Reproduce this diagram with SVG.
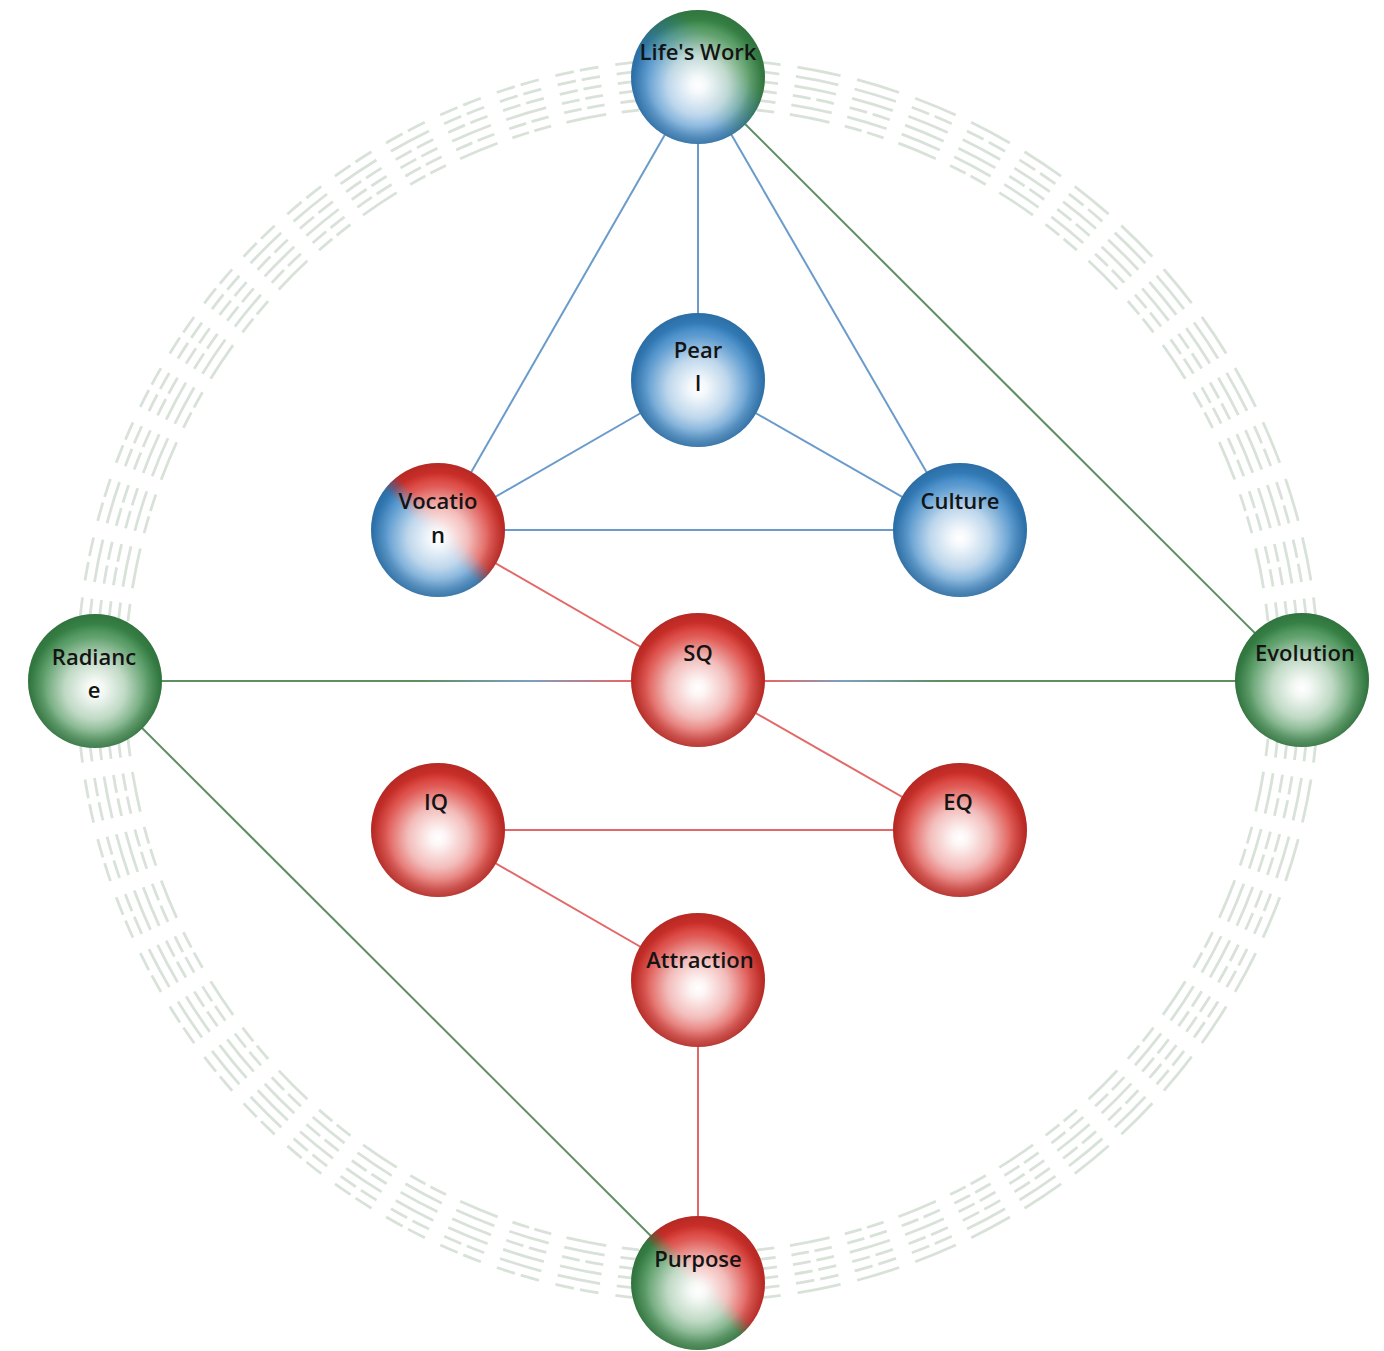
<svg xmlns="http://www.w3.org/2000/svg" width="1384" height="1351" viewBox="0 0 1384 1351">
<style>
.ring{fill:none;stroke:#d8e2d8;stroke-width:2.8;stroke-linecap:butt}
.cb{stroke:#6a9bcb;stroke-width:2;fill:none}
.cr{stroke:#e36868;stroke-width:2;fill:none}
.cg{stroke:#5e8e62;stroke-width:2;fill:none}
.hl{fill:url(#hl)}
.rim{fill:url(#rim)}
.lbl{font-family:"Open Sans","Noto Sans","Liberation Sans",sans-serif;font-weight:600;font-size:22px;fill:#141414;text-anchor:middle}
</style>
<defs>
<radialGradient id="hl" cx="0.5" cy="0.56" r="0.5">
<stop offset="0" stop-color="#fff" stop-opacity="1"/>
<stop offset="0.12" stop-color="#fff" stop-opacity="0.95"/>
<stop offset="0.45" stop-color="#fff" stop-opacity="0.68"/>
<stop offset="0.78" stop-color="#fff" stop-opacity="0.2"/>
<stop offset="0.98" stop-color="#fff" stop-opacity="0"/>
</radialGradient>
<radialGradient id="rim" cx="0.5" cy="0.5" r="0.5">
<stop offset="0.74" stop-color="#000" stop-opacity="0"/>
<stop offset="1" stop-color="#000" stop-opacity="0.16"/>
</radialGradient>
<linearGradient id="gLW" x1="0" y1="1" x2="1" y2="0">
<stop offset="0.38" stop-color="#3583c4"/>
<stop offset="0.68" stop-color="#3a8a4a"/>
</linearGradient>
<linearGradient id="gVoc" x1="0" y1="1" x2="1" y2="0">
<stop offset="0.45" stop-color="#3583c4"/>
<stop offset="0.55" stop-color="#d8312b"/>
</linearGradient>
<linearGradient id="gPur" x1="0" y1="1" x2="1" y2="0">
<stop offset="0.46" stop-color="#3a8a4a"/>
<stop offset="0.55" stop-color="#d8312b"/>
</linearGradient>
<linearGradient id="gHor" gradientUnits="userSpaceOnUse" x1="95" y1="0" x2="1302" y2="0">
<stop offset="0" stop-color="#5e8e62"/>
<stop offset="0.27" stop-color="#5e8e62"/>
<stop offset="0.36" stop-color="#7e9fbf"/>
<stop offset="0.44" stop-color="#e36868"/>
<stop offset="0.56" stop-color="#e36868"/>
<stop offset="0.62" stop-color="#7e9fbf"/>
<stop offset="0.7" stop-color="#5e8e62"/>
<stop offset="1" stop-color="#5e8e62"/>
</linearGradient>
</defs>
<rect width="1384" height="1351" fill="#fff"/>

<g id="hexagram-ring" transform="rotate(-92.03 698 680)">
<circle class="ring" cx="698" cy="680" r="573" pathLength="6400" stroke-dasharray="72 28 31 10 31 28"/>
<circle class="ring" cx="698" cy="680" r="582.6" pathLength="6400" stroke-dasharray="72 28 72 28 72 28 72 28 72 28 72 28 72 28 72 28 31 10 31 28 31 10 31 28 31 10 31 28 31 10 31 28 31 10 31 28 31 10 31 28 31 10 31 28 31 10 31 28"/>
<circle class="ring" cx="698" cy="680" r="592.2" pathLength="6400" stroke-dasharray="72 28 72 28 31 10 31 28 31 10 31 28"/>
<circle class="ring" cx="698" cy="680" r="601.8" pathLength="6400" stroke-dasharray="72 28 72 28 72 28 72 28 72 28 72 28 72 28 72 28 72 28 72 28 72 28 72 28 72 28 72 28 72 28 72 28 31 10 31 28 31 10 31 28 31 10 31 28 31 10 31 28 31 10 31 28 31 10 31 28 31 10 31 28 31 10 31 28 31 10 31 28 31 10 31 28 31 10 31 28 31 10 31 28 31 10 31 28 31 10 31 28 31 10 31 28 31 10 31 28"/>
<circle class="ring" cx="698" cy="680" r="611.4" pathLength="6400" stroke-dasharray="72 28 72 28 72 28 72 28 31 10 31 28 31 10 31 28 31 10 31 28 31 10 31 28"/>
<circle class="ring" cx="698" cy="680" r="621" pathLength="6400" stroke-dasharray="72 28 72 28 72 28 72 28 72 28 72 28 72 28 72 28 72 28 72 28 72 28 72 28 72 28 72 28 72 28 72 28 72 28 72 28 72 28 72 28 72 28 72 28 72 28 72 28 72 28 72 28 72 28 72 28 72 28 72 28 72 28 72 28 31 10 31 28 31 10 31 28 31 10 31 28 31 10 31 28 31 10 31 28 31 10 31 28 31 10 31 28 31 10 31 28 31 10 31 28 31 10 31 28 31 10 31 28 31 10 31 28 31 10 31 28 31 10 31 28 31 10 31 28 31 10 31 28 31 10 31 28 31 10 31 28 31 10 31 28 31 10 31 28 31 10 31 28 31 10 31 28 31 10 31 28 31 10 31 28 31 10 31 28 31 10 31 28 31 10 31 28 31 10 31 28 31 10 31 28 31 10 31 28 31 10 31 28"/>
</g>

<g id="connectors">
<line class="cg" x1="95" y1="681" x2="1302" y2="681" style="stroke:url(#gHor)"/>
<line class="cb" x1="698" y1="77" x2="698" y2="380"/>
<line class="cb" x1="698" y1="77" x2="438" y2="530"/>
<line class="cb" x1="698" y1="77" x2="960" y2="530"/>
<line class="cb" x1="698" y1="380" x2="438" y2="530"/>
<line class="cb" x1="698" y1="380" x2="960" y2="530"/>
<line class="cb" x1="438" y1="530" x2="960" y2="530"/>
<line class="cg" x1="698" y1="77" x2="1302" y2="680"/>
<line class="cg" x1="95" y1="681" x2="698" y2="1283"/>
<line class="cr" x1="438" y1="530" x2="698" y2="680"/>
<line class="cr" x1="698" y1="680" x2="960" y2="830"/>
<line class="cr" x1="438" y1="830" x2="960" y2="830"/>
<line class="cr" x1="438" y1="830" x2="698" y2="980"/>
<line class="cr" x1="698" y1="980" x2="698" y2="1283"/>
</g>

<g id="node-lifes-work">
<circle cx="698" cy="77" r="67" fill="url(#gLW)"/>
<circle class="hl" cx="698" cy="77" r="67"/><circle class="rim" cx="698" cy="77" r="67"/>
<text class="lbl" x="698" y="60">Life's Work</text>
</g>
<g id="node-pearl">
<circle cx="698" cy="380" r="67" fill="#3583c4"/>
<circle class="hl" cx="698" cy="380" r="67"/><circle class="rim" cx="698" cy="380" r="67"/>
<text class="lbl" x="698" y="358">Pear</text><text class="lbl" x="698" y="391">l</text>
</g>
<g id="node-vocation">
<circle cx="438" cy="530" r="67" fill="url(#gVoc)"/>
<circle class="hl" cx="438" cy="530" r="67"/><circle class="rim" cx="438" cy="530" r="67"/>
<text class="lbl" x="438" y="509">Vocatio</text><text class="lbl" x="438" y="543">n</text>
</g>
<g id="node-culture">
<circle cx="960" cy="530" r="67" fill="#3583c4"/>
<circle class="hl" cx="960" cy="530" r="67"/><circle class="rim" cx="960" cy="530" r="67"/>
<text class="lbl" x="960" y="509">Culture</text>
</g>
<g id="node-sq">
<circle cx="698" cy="680" r="67" fill="#d8312b"/>
<circle class="hl" cx="698" cy="680" r="67"/><circle class="rim" cx="698" cy="680" r="67"/>
<text class="lbl" x="698" y="661">SQ</text>
</g>
<g id="node-radiance">
<circle cx="95" cy="681" r="67" fill="#3a8a4a"/>
<circle class="hl" cx="95" cy="681" r="67"/><circle class="rim" cx="95" cy="681" r="67"/>
<text class="lbl" x="94" y="665">Radianc</text><text class="lbl" x="94" y="698">e</text>
</g>
<g id="node-evolution">
<circle cx="1302" cy="680" r="67" fill="#3a8a4a"/>
<circle class="hl" cx="1302" cy="680" r="67"/><circle class="rim" cx="1302" cy="680" r="67"/>
<text class="lbl" x="1305" y="661">Evolution</text>
</g>
<g id="node-iq">
<circle cx="438" cy="830" r="67" fill="#d8312b"/>
<circle class="hl" cx="438" cy="830" r="67"/><circle class="rim" cx="438" cy="830" r="67"/>
<text class="lbl" x="436" y="810">IQ</text>
</g>
<g id="node-eq">
<circle cx="960" cy="830" r="67" fill="#d8312b"/>
<circle class="hl" cx="960" cy="830" r="67"/><circle class="rim" cx="960" cy="830" r="67"/>
<text class="lbl" x="958" y="810">EQ</text>
</g>
<g id="node-attraction">
<circle cx="698" cy="980" r="67" fill="#d8312b"/>
<circle class="hl" cx="698" cy="980" r="67"/><circle class="rim" cx="698" cy="980" r="67"/>
<text class="lbl" x="700" y="968">Attraction</text>
</g>
<g id="node-purpose">
<circle cx="698" cy="1283" r="67" fill="url(#gPur)"/>
<circle class="hl" cx="698" cy="1283" r="67"/><circle class="rim" cx="698" cy="1283" r="67"/>
<text class="lbl" x="698" y="1267">Purpose</text>
</g>
</svg>
